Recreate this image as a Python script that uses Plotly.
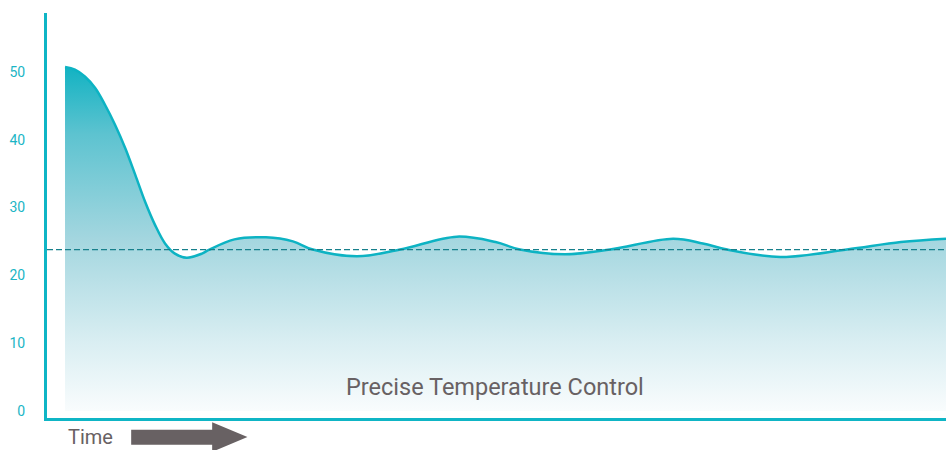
import plotly.graph_objects as go

# time (arbitrary units) and temperature values
time = [2.2, 3.3, 4.4, 5.55, 6.65, 7.75, 8.9, 10.0, 11.1, 12.2, 13.3, 14.4, 15.7, 17.4,
        18.1, 21.0, 24.5, 27.5, 29.7, 34.6, 39.4, 45.7, 50.0, 52.7, 57.7, 62.7, 69.7,
        73.0, 75.7, 81.6, 89.0, 95.0, 100.0]
temperature = [50.7, 50.3, 49.3, 47.6, 45.1, 42.2, 38.7, 34.8, 30.8, 27.4, 24.7, 23.2, 22.6, 23.2,
               23.7, 25.3, 25.6, 25.0, 23.8, 22.8, 23.8, 25.7, 24.9, 23.8, 23.1, 23.8, 25.4,
               24.7, 23.8, 22.7, 23.8, 24.9, 25.4]
setpoint = 23.8
y_ticks = [0, 10, 20, 30, 40, 50]
label_text = "Precise Temperature Control"
x_label = "Time"

TEAL = "#0db3c3"
GRAY = "#686163"
FONT = "Roboto"

fig = go.Figure()
fig.add_trace(go.Scatter(
    x=time, y=temperature, mode="lines",
    line=dict(color=TEAL, width=2.5, shape="spline", smoothing=1.0),
    fill="tozeroy",
    fillgradient=dict(type="vertical", start=0, stop=51,
                      colorscale=[[0, "#f9fcfd"], [0.2, "#d9eef2"], [0.5, "#a3d6df"],
                                  [0.8, "#5dc3d0"], [1, "#10b2c2"]]),
    hoverinfo="skip", showlegend=False,
))

fig.add_shape(type="line", xref="paper", yref="y", x0=0, x1=1, y0=setpoint, y1=setpoint,
              line=dict(color="#17808c", width=1.2, dash="6px,3px"))

# helpers converting page pixels to paper coordinates (decorations only)
PL, PR, PT, PB = 46.8, 946.0, 13.0, 417.5
def px(xp):
    return (xp - PL) / (PR - PL)
def py(yp):
    return (PB - yp) / (PB - PT)

fig.add_annotation(text=x_label, xref="paper", yref="paper", x=px(66), y=py(436),
                   xanchor="left", yanchor="middle", showarrow=False,
                   font=dict(family=FONT, size=20, color=GRAY))
path = (f"M {px(131)} {py(429.3)} L {px(212)} {py(429.3)} L {px(212)} {py(421.7)} "
        f"L {px(247.3)} {py(436.5)} L {px(212)} {py(451.3)} L {px(212)} {py(444.3)} "
        f"L {px(131)} {py(444.3)} Z")
fig.add_shape(type="path", xref="paper", yref="paper", path=path,
              fillcolor=GRAY, line=dict(width=0))

fig.add_annotation(text=label_text, xref="paper", yref="paper", x=px(495), y=py(387),
                   xanchor="center", yanchor="middle", showarrow=False,
                   font=dict(family=FONT, size=23.5, color=GRAY))

fig.update_xaxes(range=[0.2, 100], showline=True, linecolor="#0fb5c5", linewidth=3,
                 showgrid=False, zeroline=False, showticklabels=False, ticks="")
fig.update_yaxes(range=[-1.03, 58.66], showline=True, linecolor="#0fb5c5", linewidth=3,
                 showgrid=False, zeroline=False, tickvals=y_ticks, ticks="",
                 ticklabelstandoff=16,
                 tickfont=dict(family=FONT, size=14, color="#1bb5c5"))

fig.update_layout(width=946, height=450, margin=dict(l=47, r=0, t=13, b=32),
                  paper_bgcolor="white", plot_bgcolor="white")

fig.write_html("out.html", config={"displayModeBar": False},
               post_script="document.body.style.margin='0';"
                           "document.documentElement.style.overflow='hidden';")
